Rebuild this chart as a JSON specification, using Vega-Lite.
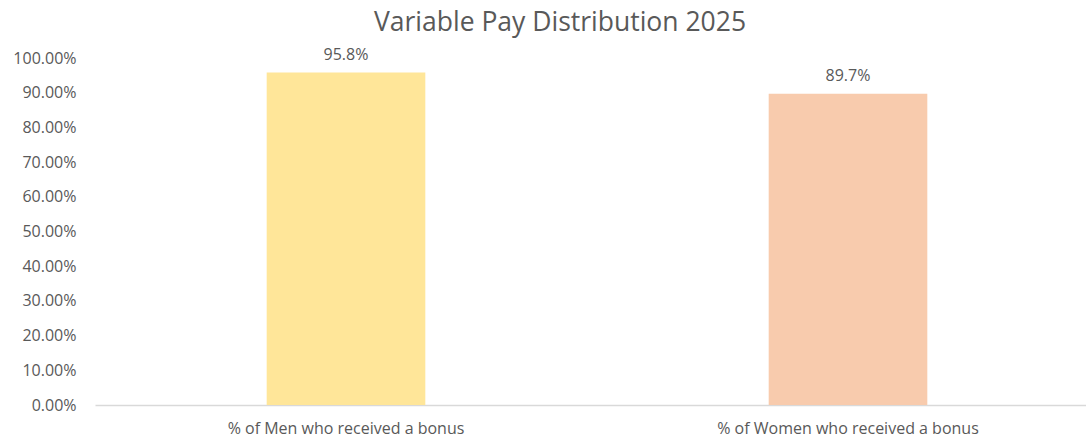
{
  "$schema": "https://vega.github.io/schema/vega-lite/v6.json",
  "width": 1004,
  "height": 347,
  "padding": {"left": 95, "top": 58, "right": 0, "bottom": 34},
  "autosize": {"type": "none"},
  "background": "white",
  "view": {"stroke": null},
  "title": {
    "text": "Variable Pay Distribution 2025",
    "fontSize": 26.5,
    "font": "Open Sans",
    "fontWeight": "normal",
    "color": "#595959",
    "anchor": "middle",
    "dx": -37,
    "offset": 10
  },
  "data": {
    "values": [
      {"group": "% of Men who received a bonus", "share": 0.958},
      {"group": "% of Women who received a bonus", "share": 0.897}
    ]
  },
  "encoding": {
    "x": {
      "field": "group",
      "type": "nominal",
      "sort": null,
      "title": null,
      "scale": {"paddingInner": 0.684, "paddingOuter": 0.342},
      "axis": {
        "labelAngle": 0,
        "labelFont": "Open Sans",
        "labelFontSize": 16,
        "labelLimit": 0,
        "labelColor": "#595959",
        "ticks": false,
        "domainColor": "#d9d9d9",
        "domainWidth": 1.5,
        "labelPadding": 15
      }
    },
    "y": {
      "field": "share",
      "type": "quantitative",
      "title": null,
      "scale": {"domain": [0, 1]},
      "axis": {
        "values": [0, 0.1, 0.2, 0.3, 0.4, 0.5, 0.6, 0.7, 0.8, 0.9, 1.0],
        "format": ".2%",
        "labelFont": "Open Sans",
        "labelFontSize": 16,
        "labelColor": "#595959",
        "ticks": false,
        "domain": false,
        "grid": false,
        "labelPadding": 19
      }
    }
  },
  "layer": [
    {
      "mark": {"type": "bar"},
      "encoding": {
        "color": {
          "field": "group",
          "type": "nominal",
          "legend": null,
          "scale": {"range": ["#FFE699", "#F8CBAD"]}
        }
      }
    },
    {
      "mark": {
        "type": "text",
        "baseline": "bottom",
        "dy": -10,
        "font": "Open Sans",
        "fontSize": 16,
        "color": "#595959"
      },
      "encoding": {
        "text": {"field": "share", "type": "quantitative", "format": ".1%"}
      }
    }
  ]
}
